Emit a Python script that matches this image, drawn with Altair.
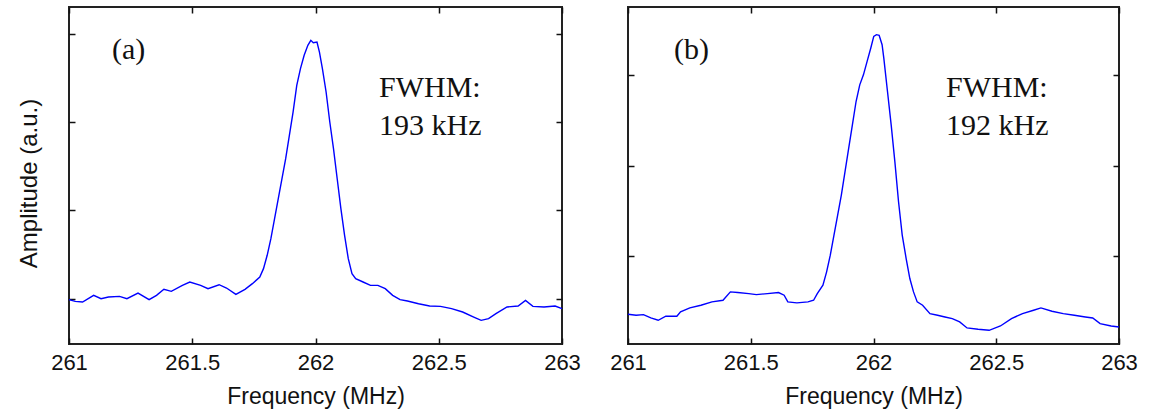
import altair as alt
import pandas as pd

# ---- data ----
freq_a = [261.000, 261.025, 261.055, 261.100, 261.130, 261.160, 261.205, 261.235, 261.280,
          261.325, 261.355, 261.385, 261.415, 261.460, 261.490, 261.534, 261.564, 261.609,
          261.639, 261.677, 261.714, 261.744, 261.774, 261.789, 261.804, 261.819, 261.834,
          261.849, 261.864, 261.879, 261.894, 261.909, 261.924, 261.939, 261.954, 261.969,
          261.981, 261.991, 262.006, 262.016, 262.028, 262.043, 262.058, 262.073, 262.088,
          262.103, 262.118, 262.133, 262.148, 262.163, 262.193, 262.223, 262.253, 262.283,
          262.313, 262.343, 262.373, 262.418, 262.463, 262.507, 262.552, 262.597, 262.642,
          262.672, 262.702, 262.732, 262.777, 262.822, 262.852, 262.882, 262.927, 262.972,
          263.000]
amp_a = [0.989, 0.970, 0.962, 1.038, 1.000, 1.019, 1.026, 1.000, 1.064,
         0.989, 1.038, 1.106, 1.083, 1.151, 1.189, 1.151, 1.113, 1.158,
         1.121, 1.049, 1.106, 1.170, 1.245, 1.340, 1.491, 1.679, 1.906,
         2.132, 2.358, 2.585, 2.849, 3.113, 3.415, 3.604, 3.755, 3.868,
         3.925, 3.898, 3.906, 3.792, 3.604, 3.340, 3.000, 2.698, 2.358,
         2.019, 1.717, 1.453, 1.283, 1.226, 1.189, 1.151, 1.151, 1.113,
         1.038, 0.989, 0.974, 0.943, 0.917, 0.913, 0.887, 0.849, 0.792,
         0.755, 0.774, 0.830, 0.906, 0.917, 0.981, 0.913, 0.906, 0.917,
         0.887]

freq_b = [261.000, 261.033, 261.063, 261.093, 261.123, 261.154, 261.199, 261.214, 261.252,
          261.297, 261.342, 261.387, 261.417, 261.447, 261.492, 261.523, 261.568, 261.613,
          261.636, 261.651, 261.688, 261.733, 261.756, 261.771, 261.794, 261.809, 261.824,
          261.839, 261.854, 261.869, 261.884, 261.899, 261.914, 261.929, 261.944, 261.959,
          261.974, 261.989, 262.001, 262.012, 262.023, 262.035, 262.042, 262.057, 262.072,
          262.087, 262.102, 262.117, 262.133, 262.148, 262.163, 262.178, 262.200, 262.230,
          262.261, 262.291, 262.321, 262.351, 262.381, 262.426, 262.471, 262.517, 262.562,
          262.607, 262.652, 262.682, 262.727, 262.773, 262.818, 262.863, 262.893, 262.923,
          262.968, 263.000]
amp_b = [1.352, 1.341, 1.348, 1.311, 1.285, 1.330, 1.330, 1.378, 1.422,
         1.452, 1.489, 1.507, 1.600, 1.593, 1.581, 1.570, 1.581, 1.593,
         1.563, 1.489, 1.478, 1.489, 1.507, 1.581, 1.674, 1.822, 2.007,
         2.230, 2.452, 2.674, 2.933, 3.193, 3.452, 3.711, 3.896, 4.007,
         4.156, 4.304, 4.433, 4.452, 4.444, 4.341, 4.193, 3.822, 3.452,
         3.044, 2.600, 2.230, 1.970, 1.748, 1.600, 1.489, 1.452, 1.359,
         1.341, 1.322, 1.304, 1.267, 1.200, 1.185, 1.174, 1.222, 1.304,
         1.359, 1.396, 1.422, 1.385, 1.359, 1.341, 1.322, 1.311, 1.248,
         1.222, 1.211]

x_ticks = [261, 261.5, 262, 262.5, 263]
y_ticks = [1, 2, 3, 4]
panel_labels = ["(a)", "(b)"]
fwhm_values = ["193 kHz", "192 kHz"]
x_title = "Frequency (MHz)"
y_title = "Amplitude (a.u.)"

SANS = "Liberation Sans"
SERIF = "Liberation Serif"


def panel(freq, amp, ydomain, width, label, fwhm, with_ytitle, txt_x):
    df = pd.DataFrame({"f": freq, "a": amp})
    xs = alt.Scale(domain=[261, 263], nice=False, zero=False)
    ys = alt.Scale(domain=ydomain, nice=False, zero=False)

    line = alt.Chart(df).mark_line(color="#0000ff", strokeWidth=1.4).encode(
        x=alt.X("f:Q", scale=xs, axis=alt.Axis(
            orient="bottom", values=x_ticks, offset=-6, tickSize=6, domain=False,
            grid=False, labelFontSize=22, labelPadding=8, labelFont=SANS,
            labelFlush=False, format="~g",
            labelColor="#111", title=x_title, titleFont=SANS, titleFontSize=23,
            titleFontWeight="normal", titleColor="#111", titlePadding=12,
            tickColor="#111", tickWidth=1.5)),
        y=alt.Y("a:Q", scale=ys, axis=alt.Axis(
            orient="left", values=y_ticks, offset=-6, tickSize=6, domain=False,
            grid=False, labels=False, title=(y_title if with_ytitle else None),
            titleFont=SANS, titleFontSize=24, titleFontWeight="normal",
            titleColor="#111", titlePadding=27, titleY=176,
            tickColor="#111", tickWidth=1.5)),
    )
    mirror = alt.Chart(df).mark_line(opacity=0).encode(
        x=alt.X("f:Q", scale=xs, axis=alt.Axis(
            orient="top", values=x_ticks, offset=-6, tickSize=6, domain=False,
            grid=False, labels=False, title=None, tickColor="#111", tickWidth=1.5)),
        y=alt.Y("a:Q", scale=ys, axis=alt.Axis(
            orient="right", values=y_ticks, offset=-6, tickSize=6, domain=False,
            grid=False, labels=False, title=None, tickColor="#111", tickWidth=1.5)),
    )

    def txt(s, x, y):
        return alt.Chart(pd.DataFrame({"t": [s]})).mark_text(
            font=SERIF, fontSize=30, color="#111", align="left", baseline="alphabetic"
        ).encode(text="t:N", x=alt.value(x), y=alt.value(y))

    texts = [txt(label, txt_x[0], 52), txt("FWHM:", txt_x[1], 90), txt(fwhm, txt_x[1], 128)]
    return alt.layer(line, mirror, *texts).resolve_axis(
        x="independent", y="independent").properties(width=width, height=337)


pa = panel(freq_a, amp_a, [0.487, 4.302], 493, panel_labels[0], fwhm_values[0], True, (43, 310))
pb = panel(freq_b, amp_b, [1.022, 4.759], 491, panel_labels[1], fwhm_values[1], False, (46, 318))

chart = alt.hconcat(pa, pb, spacing=66, bounds="flush").properties(
    padding={"left": 16, "top": 5, "right": 5, "bottom": 2},
    background="white",
).configure_view(stroke="#222", strokeWidth=2)

chart.save("out.html", embed_options={"renderer": "svg", "actions": False})
